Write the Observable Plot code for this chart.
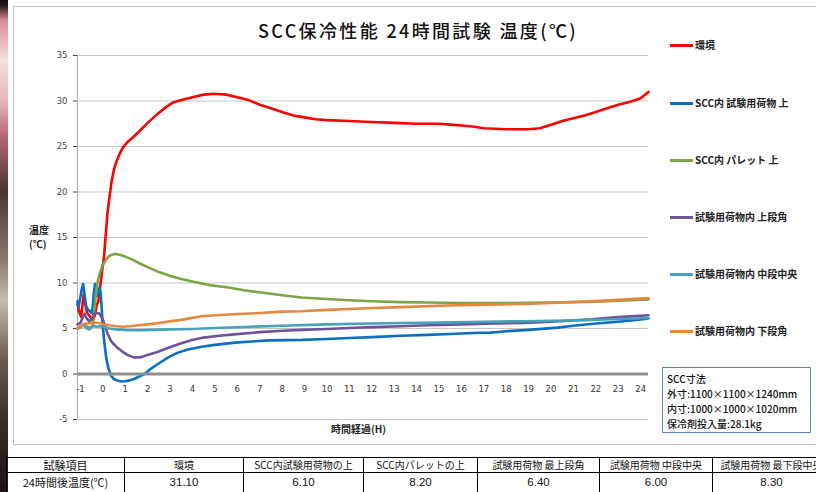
<!DOCTYPE html>
<html><head><meta charset="utf-8">
<script src="https://cdn.jsdelivr.net/npm/d3@7"></script>
<script src="https://cdn.jsdelivr.net/npm/@observablehq/plot@0.6"></script>
<style>
body{margin:0;background:#fff;}
#wrap{position:relative;width:816px;height:492px;overflow:hidden;background:#fff;font-family:"Noto Sans CJK JP","Noto Sans",sans-serif;}
#strip{position:absolute;left:0;top:0;width:8px;height:492px;background:linear-gradient(#161312 0px,#2a1c1c 6px,#d98a9c 20px,#f3dede 60px,#e6b8c2 100px,#b86a7a 135px,#4a3430 190px,#8a7a70 260px,#c8bcb0 300px,#6a5a50 360px,#3a2e2a 420px,#1a1414 492px);}
#frame{position:absolute;left:13px;top:6px;width:840px;height:437px;border:1.5px solid #c2c2c2;}
#chart{position:absolute;left:0;top:0;}
#title{position:absolute;left:258px;top:18px;font-size:18px;line-height:24px;font-weight:500;color:#111;white-space:nowrap;}
#ylab{position:absolute;left:29px;top:223px;font-size:10px;line-height:14px;font-weight:bold;color:#222;}
#xlab{position:absolute;left:331px;top:422px;font-size:10px;line-height:14px;font-weight:bold;color:#222;white-space:nowrap;}
.lg{position:absolute;left:670px;font-size:10px;line-height:14px;font-weight:bold;color:#222;white-space:nowrap;}
.lg span.sw{display:inline-block;width:23px;height:3px;vertical-align:middle;margin-right:2px;position:relative;top:-1px;}
#info{position:absolute;left:662px;top:367px;border:1.5px solid #5b87c0;padding:3px 0 0 4px;font-size:10px;line-height:15px;font-weight:500;color:#111;white-space:nowrap;box-sizing:border-box;height:66px;width:149px;}
#tbl{position:absolute;left:6px;top:457px;border-collapse:collapse;table-layout:fixed;}
#tbl td{border:1px solid #000;text-align:center;padding:0;white-space:nowrap;overflow:hidden;color:#111;}
#tbl tr.h td{height:14px;font-size:10px;line-height:14px;}
#tbl tr.v td{height:19px;font-size:11.5px;line-height:19px;font-family:"Liberation Sans",Arial,sans-serif;}
#tbl tr td:first-child{font-family:"Noto Sans CJK JP",sans-serif;font-size:11px;}
</style></head><body>
<div id="wrap">
 <div id="strip"></div>
 <div id="frame"></div>
 <div id="chart"></div>
 <div id="title">SCC保冷性能 24時間試験 温度(℃)</div>
 <div id="ylab">温度<br>(℃)</div>
 <div id="xlab">時間経過(H)</div>
 <div id="legend"></div>
 <div id="info"></div>
 <table id="tbl"></table>
</div>
<script>
// ---- data ----
const seriesNames = ["環境","SCC内 試験用荷物 上","SCC内 パレット 上","試験用荷物内 上段角","試験用荷物内 中段中央","試験用荷物内 下段角"];
const seriesColors = ["#ff0000","#0a6fc4","#7aa544","#6f529c","#45a2ba","#e8873c"];

const kankyo = [[-1.13,7.7],[-1.05,6.8],[-0.97,6.3],[-0.9,7.8],[-0.85,8.8],[-0.78,7.6],[-0.7,6.7],[-0.6,6.4],[-0.5,6.1],[-0.42,6.0],[-0.35,6.5],[-0.28,7.5],[-0.2,8.0],[-0.12,9.5],[-0.05,11.0],[0.05,12.8],[0.12,15],[0.2,17.5],[0.3,19.5],[0.4,21.3],[0.5,22.5],[0.6,23.3],[0.75,24.2],[0.9,24.9],[1.1,25.5],[1.3,25.9],[1.6,26.6],[2.0,27.6],[2.4,28.5],[2.8,29.3],[3.1,29.8],[3.5,30.1],[4.0,30.4],[4.5,30.7],[5.0,30.8],[5.5,30.7],[6.0,30.4],[6.5,30.1],[7.0,29.6],[7.5,29.2],[8.0,28.8],[8.5,28.4],[9.0,28.2],[9.5,28.0],[10,27.9],[11,27.8],[12,27.7],[13,27.6],[14,27.5],[15,27.5],[15.5,27.4],[16,27.3],[16.5,27.2],[17,27.0],[17.5,26.95],[18,26.9],[18.5,26.9],[19,26.9],[19.5,27.0],[20,27.4],[20.5,27.8],[21,28.1],[21.5,28.4],[22,28.8],[22.5,29.2],[23,29.6],[23.5,29.9],[24,30.3],[24.35,31.0]];
const sccNimotsu = [[-1.13,8.0],[-1.08,7.4],[-1.02,8.2],[-0.95,9.2],[-0.88,9.9],[-0.82,8.8],[-0.75,7.5],[-0.67,7.1],[-0.58,6.9],[-0.5,6.7],[-0.45,7.4],[-0.4,9.0],[-0.35,9.9],[-0.3,9.4],[-0.25,8.6],[-0.2,9.0],[-0.15,9.5],[-0.1,9.0],[-0.05,7.2],[0.0,5.2],[0.08,3.2],[0.15,1.8],[0.25,0.6],[0.37,-0.2],[0.5,-0.55],[0.67,-0.75],[0.85,-0.82],[1.0,-0.8],[1.2,-0.7],[1.4,-0.55],[1.6,-0.3],[1.86,0.0],[2.1,0.5],[2.46,1.1],[2.9,1.8],[3.35,2.35],[3.8,2.7],[4.4,3.0],[5.0,3.2],[5.9,3.45],[6.8,3.6],[7.4,3.7],[8.9,3.75],[10,3.85],[11,3.95],[12,4.05],[13.3,4.2],[14.5,4.3],[15.5,4.4],[16.5,4.5],[17.3,4.55],[18,4.7],[19,4.85],[20.3,5.1],[21,5.3],[22,5.55],[23,5.75],[24,6.0],[24.35,6.1]];
const sccPallet = [[-1.13,5.0],[-1.0,5.2],[-0.9,5.4],[-0.8,5.3],[-0.7,5.2],[-0.6,5.1],[-0.5,5.2],[-0.45,5.4],[-0.38,7.0],[-0.3,9.0],[-0.22,10.3],[-0.12,11.2],[0,12.0],[0.15,12.6],[0.3,13.0],[0.52,13.2],[0.75,13.1],[1.0,12.9],[1.3,12.6],[1.6,12.2],[2.0,11.75],[2.5,11.2],[3.05,10.75],[3.5,10.45],[4.1,10.1],[4.8,9.75],[5.6,9.5],[6.3,9.2],[7.07,8.95],[8.0,8.65],[8.86,8.4],[10,8.25],[11,8.1],[12,8.0],[13.3,7.9],[14.5,7.85],[16,7.8],[18,7.8],[20,7.85],[22,7.95],[23,8.05],[24.35,8.2]];
const joudanKado = [[-1.13,5.45],[-1.0,5.6],[-0.9,6.2],[-0.82,6.6],[-0.72,6.1],[-0.6,5.8],[-0.5,6.0],[-0.4,6.6],[-0.3,6.7],[-0.15,6.65],[0.0,6.0],[0.07,5.45],[0.2,4.5],[0.37,3.6],[0.6,3.0],[0.82,2.55],[1.1,2.1],[1.41,1.8],[1.7,1.85],[2.0,2.1],[2.4,2.4],[2.9,2.85],[3.4,3.3],[3.94,3.7],[4.5,4.0],[5.2,4.2],[5.87,4.35],[7,4.6],[8,4.75],[8.86,4.85],[10,4.95],[11,5.05],[12,5.15],[13.3,5.25],[14.5,5.35],[16,5.45],[17.5,5.55],[18.8,5.6],[20,5.75],[21.8,6.0],[23,6.25],[24.35,6.45]];
const chudanChuou = [[-1.13,5.0],[-1.0,5.1],[-0.9,5.35],[-0.8,5.2],[-0.7,5.0],[-0.6,4.9],[-0.5,5.1],[-0.4,5.3],[-0.3,5.2],[-0.15,5.25],[0,5.2],[0.3,5.0],[0.6,4.9],[1.1,4.8],[1.6,4.8],[2.2,4.85],[3,4.9],[4,4.95],[5,5.05],[6.6,5.2],[8,5.3],[10,5.45],[12,5.55],[13.3,5.6],[15,5.65],[17,5.75],[18.8,5.8],[20,5.85],[21.5,5.9],[23,6.05],[24.35,6.15]];
const gedanKado = [[-1.13,5.0],[-1.0,5.2],[-0.85,5.5],[-0.7,5.55],[-0.55,5.6],[-0.4,5.65],[-0.2,5.6],[0,5.5],[0.3,5.35],[0.6,5.25],[0.9,5.2],[1.2,5.25],[1.6,5.35],[2.0,5.45],[2.5,5.6],[3.0,5.8],[3.5,5.95],[4.4,6.35],[5.0,6.45],[6.0,6.6],[7.0,6.7],[8.0,6.85],[8.86,6.9],[10,7.05],[11,7.15],[12,7.25],[13.3,7.35],[15,7.5],[16.5,7.6],[18.8,7.7],[20,7.8],[21.5,7.95],[23,8.15],[24.35,8.35]];
const seriesData = [kankyo, sccNimotsu, sccPallet, joudanKado, chudanChuou, gedanKado];

const xTicks = [-1,0,1,2,3,4,5,6,7,8,9,10,11,12,13,14,15,16,17,18,19,20,21,22,23,24];
const yTicks = [-5,0,5,10,15,20,25,30,35];
const xDomain = [-1.13, 24.35];

const infoLines = ["SCC寸法","外寸:1100×1100×1240mm","内寸:1000×1000×1020mm","保冷剤投入量:28.1kg"];
const tableHeaders = ["試験項目","環境","SCC内試験用荷物の上","SCC内パレットの上","試験用荷物 最上段角","試験用荷物 中段中央","試験用荷物 最下段中央"];
const tableValues = ["24時間後温度(℃)","31.10","6.10","8.20","6.40","6.00","8.30"];
const colWidths = [118,119,120,114,122,113,118];

// ---- chart ----
const lineMarks = seriesData.map((s, i) =>
  Plot.line(s, {x: d => d[0], y: d => d[1], stroke: seriesColors[i], strokeWidth: 2.6, strokeLinejoin: "round", strokeLinecap: "round"}));

const chart = Plot.plot({
  width: 816, height: 492,
  marginLeft: 77, marginRight: 168, marginTop: 55, marginBottom: 73,
  x: {domain: xDomain, axis: null},
  y: {domain: [-5, 35], ticks: yTicks, tickSize: 4, tickPadding: 6, label: null, tickFormat: d => String(d)},
  style: {fontFamily: "DejaVu Sans", fontSize: "8.5px", color: "#444", background: "transparent", overflow: "visible"},
  marks: [
    Plot.ruleY(yTicks, {stroke: "#c6c6c6", strokeWidth: 1}),
    Plot.ruleX([xDomain[0]], {stroke: "#a8a8a8", strokeWidth: 1}),
    ...lineMarks,
    Plot.ruleY([0], {stroke: "#8e8e8e", strokeWidth: 3.2}),
    Plot.text(xTicks, {x: d => d, y: () => 0, dy: 15, text: d => String(d), fill: "#333", fontSize: 8.5})
  ]
});
document.getElementById("chart").appendChild(chart);

// legend
const legendTops = [38, 96, 153, 210, 267, 324];
const lg = document.getElementById("legend");
seriesNames.forEach((n, i) => {
  const d = document.createElement("div");
  d.className = "lg";
  d.style.top = legendTops[i] + "px";
  d.innerHTML = `<span class="sw" style="background:${seriesColors[i]}"></span>${n}`;
  lg.appendChild(d);
});

// info box
document.getElementById("info").innerHTML = infoLines.map(t => `<div>${t}</div>`).join("");

// table
const tbl = document.getElementById("tbl");
const cg = document.createElement("colgroup");
colWidths.forEach(w => { const c = document.createElement("col"); c.style.width = w + "px"; cg.appendChild(c); });
tbl.appendChild(cg);
tbl.style.width = colWidths.reduce((a, b) => a + b, 0) + "px";
[[tableHeaders, "h"], [tableValues, "v"]].forEach(([row, cls]) => {
  const tr = document.createElement("tr");
  tr.className = cls;
  row.forEach(t => { const td = document.createElement("td"); td.textContent = t; tr.appendChild(td); });
  tbl.appendChild(tr);
});

// fit title width
const title = document.getElementById("title");
const target = 320;
const nat = title.getBoundingClientRect().width;
const n = [...title.textContent].length;
title.style.letterSpacing = ((target - nat) / n) + "px";
</script>
</body></html>
